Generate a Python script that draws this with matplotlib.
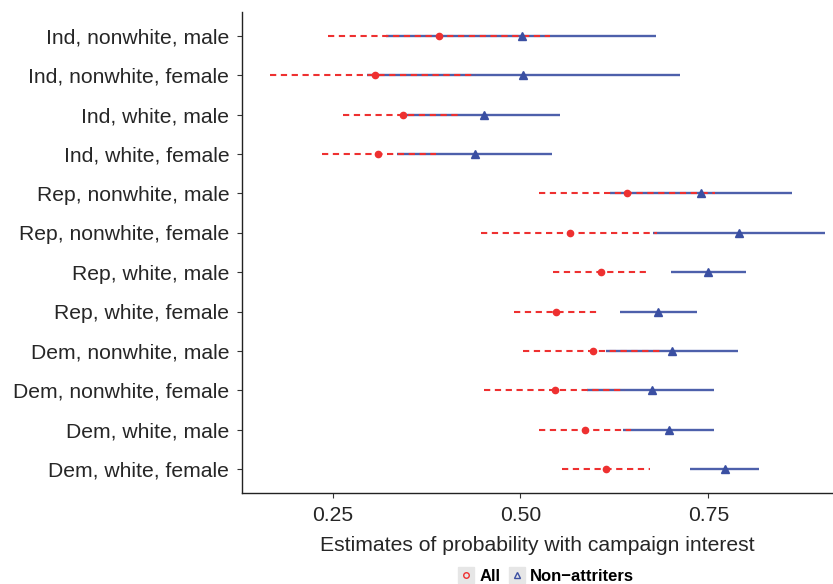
import matplotlib
matplotlib.use("Agg")
import matplotlib.pyplot as plt
from matplotlib.lines import Line2D
from matplotlib.legend_handler import HandlerTuple

plt.rcParams["font.family"] = ["Liberation Sans", "DejaVu Sans"]

# groups, top to bottom
groups = [
    "Ind, nonwhite, male", "Ind, nonwhite, female", "Ind, white, male", "Ind, white, female",
    "Rep, nonwhite, male", "Rep, nonwhite, female", "Rep, white, male", "Rep, white, female",
    "Dem, nonwhite, male", "Dem, nonwhite, female", "Dem, white, male", "Dem, white, female",
]

# "All" estimates with interval
all_est = [0.391, 0.307, 0.344, 0.311, 0.642, 0.566, 0.607, 0.547, 0.597, 0.546, 0.586, 0.614]
all_lo = [0.244, 0.167, 0.264, 0.236, 0.525, 0.447, 0.544, 0.491, 0.504, 0.452, 0.525, 0.556]
all_hi = [0.540, 0.441, 0.418, 0.387, 0.759, 0.682, 0.671, 0.603, 0.690, 0.639, 0.647, 0.673]

# "Non-attriters" estimates with interval
non_est = [0.502, 0.504, 0.451, 0.440, 0.740, 0.791, 0.750, 0.683, 0.702, 0.675, 0.698, 0.772]
non_lo = [0.321, 0.296, 0.349, 0.336, 0.619, 0.676, 0.701, 0.632, 0.614, 0.588, 0.637, 0.726]
non_hi = [0.681, 0.713, 0.553, 0.542, 0.862, 0.906, 0.800, 0.735, 0.789, 0.758, 0.757, 0.818]

xticks = [0.25, 0.50, 0.75]

RED = "#EE3030"
BLUE = "#3A4FA2"
FS = 15.2
TXT = "#262626"

fig = plt.figure(figsize=(8.33, 5.84), dpi=100)
ax = fig.add_axes([0.291, 0.156, 0.709, 0.823])

ypos = list(range(len(groups)))

for i in ypos:
    ax.plot([non_lo[i], non_hi[i]], [i, i], color=BLUE, lw=1.7, alpha=0.9, solid_capstyle="butt", zorder=2)
for i in ypos:
    ax.plot([all_lo[i], all_hi[i]], [i, i], color=RED, lw=1.5, ls=(0, (3, 2.2)), zorder=3)

ax.plot(non_est, ypos, ls="none", marker="^", ms=5.5, color=BLUE, zorder=4)
ax.plot(all_est, ypos, ls="none", marker="o", ms=4.5, color=RED, zorder=4)

ax.set_xlim(0.130, 0.916)
ax.set_ylim(11.6, -0.6)
ax.set_yticks(ypos)
ax.set_yticklabels(groups, fontsize=FS, color=TXT)
ax.set_xticks(xticks)
ax.set_xticklabels([f"{t:.2f}" for t in xticks], fontsize=FS, color=TXT)
ax.tick_params(axis="both", length=3.5, width=0.8, color="#333333", pad=6)
ax.set_xlabel("Estimates of probability with campaign interest", fontsize=FS, color=TXT, labelpad=8)

for side in ["top", "right"]:
    ax.spines[side].set_visible(False)
for side in ["left", "bottom"]:
    ax.spines[side].set_color("#222222")
    ax.spines[side].set_linewidth(1.0)

# legend with grey key background like ggplot
key_bg = dict(ls="none", marker="s", ms=11, color="#E6E6E6", mec="#E6E6E6")
h_all = (Line2D([], [], **key_bg), Line2D([], [], ls="none", marker="o", ms=4, mfc="none", mec=RED, mew=1.0))
h_non = (Line2D([], [], **key_bg), Line2D([], [], ls="none", marker="^", ms=4.5, mfc="none", mec=BLUE, mew=1.0))
fig.legend([h_all, h_non], ["All", "Non\u2212attriters"],
           handler_map={tuple: HandlerTuple(ndivide=1, pad=0)},
           loc="center", bbox_to_anchor=(0.656, 0.013), ncol=2, frameon=False,
           prop={"weight": "bold", "size": 12}, handlelength=0.9,
           handletextpad=0.35, columnspacing=0.5, borderaxespad=0)

fig.savefig("out.png", dpi=100)
